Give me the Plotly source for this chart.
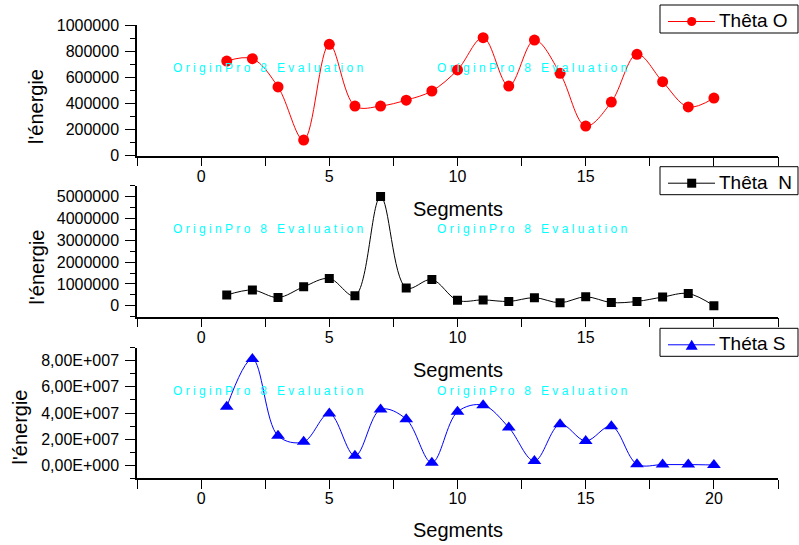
import math
import plotly.graph_objects as go

# ---- data -------------------------------------------------------------
segments = list(range(1, 21))

theta_o = [724000, 742000, 526000, 120000, 852000, 380000, 380000, 425000, 495000, 656000,
           903000, 533000, 885000, 630000, 227000, 410000, 776000, 566000, 373000, 441000]

theta_n = [490000, 720000, 380000, 870000, 1250000, 460000, 5000000, 820000, 1200000, 250000,
           270000, 200000, 370000, 140000, 410000, 150000, 200000, 400000, 560000, 0]

theta_s = [4.47e7, 8.13e7, 2.25e7, 1.79e7, 3.96e7, 0.72e7, 4.27e7, 3.53e7, 0.20e7, 4.09e7,
           4.60e7, 2.89e7, 0.33e7, 3.14e7, 1.86e7, 2.99e7, 0.08e7, 0.05e7, 0.05e7, 0.02e7]

series_names = ["Thêta O", "Thêta\u00a0\u00a0N", "Théta S"]
x_tickvals = [0, 5, 10, 15, 20]
s_tickvals = [0, 2e7, 4e7, 6e7, 8e7]
x_title = "Segments"
y_title = "l'énergie"
watermark = "OriginPro 8 Evaluation"

# ---- helpers ------------------------------------------------------------
W, H = 799, 545
FONT = "Arial, Liberation Sans, sans-serif"


def px_x(p):
    return p / W


def px_y(p):
    return 1 - p / H


def sci_label(v):
    if v == 0:
        return "0,00E+000"
    e = int(math.floor(math.log10(abs(v))))
    m = v / 10 ** e
    return f"{m:.2f}".replace(".", ",") + f"E+{e:03d}"


def spaced(text):
    out = []
    for word in text.split(" "):
        out.append("\u00a0".join(word))
    return "\u00a0\u00a0\u00a0".join(out)


x_dom = [px_x(137), px_x(778)]
panels = [  # (top px, bottom px) of each plot area
    (25.0, 155.7),
    (185.7, 316.7),
    (347.7, 478.3),
]

fig = go.Figure()

styles = [
    dict(color="#ff0000", symbol="circle", size=11),
    dict(color="#000000", symbol="square", size=9),
    dict(color="#0000ff", symbol="triangle-up", size=12),
]
values = [theta_o, theta_n, theta_s]

for i, (vals, st, name) in enumerate(zip(values, styles, series_names)):
    fig.add_trace(go.Scatter(
        x=segments, y=vals, name=name,
        mode="lines+markers",
        line=dict(color=st["color"], width=1, shape="spline", smoothing=1),
        marker=dict(color=st["color"], symbol=st["symbol"], size=st["size"],
                    line=dict(width=0)),
        xaxis="x" if i == 0 else f"x{i+1}",
        yaxis="y" if i == 0 else f"y{i+1}",
        showlegend=False,
    ))

common = dict(
    showline=True, linecolor="black", linewidth=1.5,
    ticks="outside", tickcolor="black", tickwidth=1,
    showgrid=False, zeroline=False,
    tickfont=dict(family=FONT, size=16, color="black"),
)

y_cfgs = [
    dict(range=[0, 1000000], tickmode="linear", tick0=0, dtick=200000, tickformat="d",
         minor=dict(tickmode="linear", tick0=0, dtick=100000, ticklen=5, ticks="outside",
                    tickcolor="black")),
    dict(range=[-500000, 5500000], tickmode="linear", tick0=0, dtick=1000000, tickformat="d",
         minor=dict(tickmode="linear", tick0=0, dtick=500000, ticklen=5, ticks="outside",
                    tickcolor="black")),
    dict(range=[-1e7, 9e7], tickmode="array", tickvals=s_tickvals,
         ticktext=[sci_label(v) for v in s_tickvals],
         minor=dict(tickmode="linear", tick0=0, dtick=1e7, ticklen=5, ticks="outside",
                    tickcolor="black")),
]

layout = dict(
    width=W, height=H,
    margin=dict(l=0, r=0, t=0, b=0, autoexpand=False),
    paper_bgcolor="white", plot_bgcolor="white",
    font=dict(family=FONT, color="black"),
    showlegend=False,
)

for i, (top, bot) in enumerate(panels):
    xk = "xaxis" if i == 0 else f"xaxis{i+1}"
    yk = "yaxis" if i == 0 else f"yaxis{i+1}"
    xa = "x" if i == 0 else f"x{i+1}"
    ya = "y" if i == 0 else f"y{i+1}"
    # the upper two panels have their last label tucked under the next legend box
    last_label = i == len(panels) - 1
    xtext = [str(v) if (v != x_tickvals[-1] or last_label) else "" for v in x_tickvals]
    layout[xk] = dict(common, domain=x_dom, anchor=ya, range=[-2.5, 22.5],
                      tickmode="array", tickvals=x_tickvals, ticktext=xtext, ticklen=9,
                      ticklabelstandoff=-4,
                      minor=dict(tickmode="linear", tick0=0, dtick=2.5, ticklen=9,
                                 ticks="outside", tickcolor="black"))
    layout[yk] = dict(common, domain=[px_y(bot), px_y(top)], anchor=xa, ticklen=10,
                      ticklabelstandoff=3, **y_cfgs[i])

fig.update_layout(**layout)

# ---- legend boxes (one per panel) ------------------------------------------
legend_tops = [5, 166.7, 328.3]
box_l, box_r, box_h = 660, 798, 28
for i, (t, st, name) in enumerate(zip(legend_tops, styles, series_names)):
    cy = t + 16.5
    fig.add_shape(type="rect", xref="paper", yref="paper", layer="above",
                  x0=px_x(box_l), x1=px_x(box_r), y0=px_y(t + box_h), y1=px_y(t),
                  line=dict(color="black", width=1), fillcolor="white")
    fig.add_shape(type="line", xref="paper", yref="paper", layer="above",
                  x0=px_x(668), x1=px_x(715), y0=px_y(cy), y1=px_y(cy),
                  line=dict(color=st["color"], width=1))
    mx = 691.7
    if st["symbol"] == "circle":
        r = 4.6
        fig.add_shape(type="circle", xref="paper", yref="paper", layer="above",
                      x0=px_x(mx - r), x1=px_x(mx + r), y0=px_y(cy + r), y1=px_y(cy - r),
                      line=dict(width=0), fillcolor=st["color"])
    elif st["symbol"] == "square":
        r = 4.5
        fig.add_shape(type="rect", xref="paper", yref="paper", layer="above",
                      x0=px_x(mx - r), x1=px_x(mx + r), y0=px_y(cy + r), y1=px_y(cy - r),
                      line=dict(width=0), fillcolor=st["color"])
    else:
        hw, hh = 6, 5
        path = (f"M {px_x(mx - hw)} {px_y(cy + hh)} L {px_x(mx + hw)} {px_y(cy + hh)} "
                f"L {px_x(mx)} {px_y(cy - hh)} Z")
        fig.add_shape(type="path", xref="paper", yref="paper", layer="above",
                      path=path, line=dict(width=0), fillcolor=st["color"])
    fig.add_annotation(text=name, xref="paper", yref="paper", x=px_x(717), y=px_y(cy - 1),
                       showarrow=False, xanchor="left", yanchor="middle",
                       font=dict(family=FONT, size=19, color="black"))

# ---- axis titles ------------------------------------------------------------
ytitle_pos = [(36, 107), (36, 267.5), (19, 427.5)]
xtitle_y = [208.5, 370, 530]
for (xp, yp) in ytitle_pos:
    fig.add_annotation(text=y_title, xref="paper", yref="paper", x=px_x(xp), y=px_y(yp),
                       textangle=-90, showarrow=False, xanchor="center", yanchor="middle",
                       font=dict(family=FONT, size=20, color="black"))
for yp in xtitle_y:
    fig.add_annotation(text=x_title, xref="paper", yref="paper", x=px_x(457.5), y=px_y(yp),
                       showarrow=False, xanchor="center", yanchor="middle",
                       font=dict(family=FONT, size=20, color="black"))

# ---- evaluation stamps --------------------------------------------------------
stamp_y = [68, 229, 391]
for yp in stamp_y:
    for xp in (268, 532):
        fig.add_annotation(text=spaced(watermark), xref="paper", yref="paper",
                           x=px_x(xp), y=px_y(yp), showarrow=False,
                           xanchor="center", yanchor="middle",
                           font=dict(family=FONT, size=12, color="#00ffff"))

fig.write_html("out.html")
